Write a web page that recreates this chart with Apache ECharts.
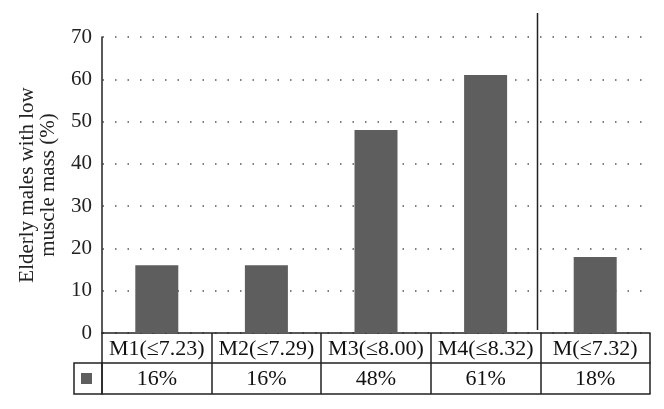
<!DOCTYPE html>
<html>
<head>
<meta charset="utf-8">
<script src="https://cdn.jsdelivr.net/npm/echarts@6/dist/echarts.min.js"></script>
<style>
html,body{margin:0;padding:0;background:#fff;}
#chart{width:664px;height:409px;}
</style>
</head>
<body>
<div id="chart"></div>
<script>
var categories = ['M1(\u22647.23)', 'M2(\u22647.29)', 'M3(\u22648.00)', 'M4(\u22648.32)', 'M(\u22647.32)'];
var values = [16, 16, 48, 61, 18];
var valueLabels = ['16%', '16%', '48%', '61%', '18%'];
var yTicks = { min: 0, max: 70, interval: 10 };
var yAxisTitle = 'Elderly males with low\nmuscle mass (%)';

var FONT = '"Liberation Serif", "Times New Roman", serif';
var LINE = '#222';
var BAR = '#5e5e5e';

var chart = echarts.init(document.getElementById('chart'), null, { renderer: 'canvas' });
var option = {
  animation: false,
  backgroundColor: '#fff',
  textStyle: { fontFamily: FONT },
  grid: { left: 102, right: 14, top: 37, bottom: 76, containLabel: false },
  legend: {
    show: true,
    left: 76,
    top: 368,
    itemWidth: 11,
    itemHeight: 11,
    icon: 'rect',
    data: ['Elderly males'],
    formatter: function () { return ''; },
    selectedMode: false
  },
  xAxis: [
    {
      type: 'category',
      data: categories,
      position: 'bottom',
      boundaryGap: true,
      axisLine: { show: true, lineStyle: { color: LINE, width: 1.5 } },
      axisTick: { show: true, length: 61, inside: false, lineStyle: { color: LINE, width: 1.5 } },
      axisLabel: { show: true, margin: 5, color: '#111', fontSize: 22, fontFamily: FONT, interval: 0 },
      splitLine: { show: false }
    },
    {
      type: 'category',
      data: valueLabels,
      position: 'bottom',
      offset: 30,
      boundaryGap: true,
      axisLine: { show: true, lineStyle: { color: LINE, width: 1.5 } },
      axisTick: { show: false },
      axisLabel: { show: true, margin: 5, color: '#111', fontSize: 22, fontFamily: FONT, interval: 0 },
      splitLine: { show: false }
    },
    {
      type: 'category',
      data: valueLabels,
      position: 'bottom',
      offset: 61,
      boundaryGap: true,
      axisLine: { show: true, lineStyle: { color: LINE, width: 1.5 } },
      axisTick: { show: false },
      axisLabel: { show: false },
      splitLine: { show: false }
    }
  ],
  yAxis: {
    type: 'value',
    min: yTicks.min,
    max: yTicks.max,
    interval: yTicks.interval,
    name: yAxisTitle,
    nameLocation: 'middle',
    nameGap: 43,
    nameRotate: 90,
    nameTextStyle: { fontSize: 21, fontFamily: FONT, color: '#222', lineHeight: 21, align: 'center' },
    axisLine: { show: true, lineStyle: { color: LINE, width: 1.5 } },
    axisTick: { show: false },
    axisLabel: { margin: 10, fontSize: 21, fontFamily: FONT, color: '#222' },
    splitLine: { show: true, lineStyle: { color: '#555', width: 1.5, type: [1.5, 11], dashOffset: 12 } }
  },
  series: [
    {
      name: 'Elderly males',
      type: 'bar',
      xAxisIndex: 0,
      data: values,
      barWidth: 43,
      itemStyle: { color: BAR }
    }
  ]
};
chart.setOption(option);

// decorations: legend cell border and separator line
var x3 = chart.convertToPixel({ xAxisIndex: 0 }, categories[3]);
var x4 = chart.convertToPixel({ xAxisIndex: 0 }, categories[4]);
var sepX = Math.round((x3 + x4) / 2) - 3 + 0.5;
var yTop = chart.convertToPixel({ yAxisIndex: 0 }, yTicks.max);
var y0 = chart.convertToPixel({ yAxisIndex: 0 }, 0);
var leftX = chart.convertToPixel({ xAxisIndex: 0 }, categories[0]) - (x4 - x3) / 2;
chart.setOption({
  graphic: [
    {
      type: 'line',
      shape: { x1: sepX, y1: yTop - 24, x2: sepX, y2: y0 - 3 },
      style: { stroke: LINE, lineWidth: 1.5 }
    },
    {
      type: 'rect',
      shape: { x: leftX - 28, y: y0 + 30, width: 28, height: 31 },
      style: { stroke: LINE, lineWidth: 1.5, fill: null }
    }
  ]
});
</script>
</body>
</html>
